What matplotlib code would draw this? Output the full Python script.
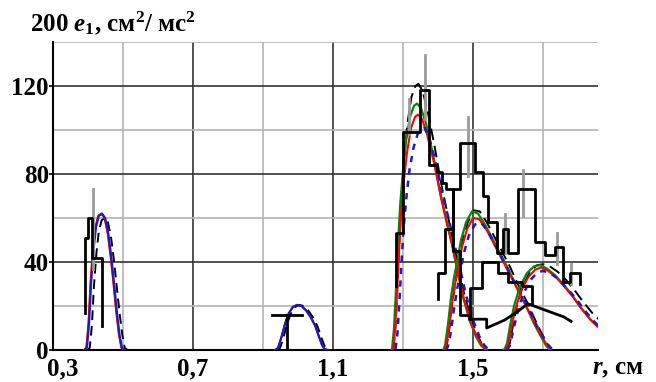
import matplotlib
matplotlib.use("Agg")
import matplotlib.pyplot as plt
import matplotlib.transforms as mtransforms

plt.rcParams['font.family'] = ['Liberation Serif', 'DejaVu Serif']
plt.rcParams['font.weight'] = 'bold'
plt.rcParams['mathtext.fontset'] = 'custom'
plt.rcParams['mathtext.rm'] = 'Liberation Serif:bold'
plt.rcParams['mathtext.it'] = 'Liberation Serif:italic:bold'
plt.rcParams['mathtext.bf'] = 'Liberation Serif:bold'

# ---------------- data ----------------
x_major = [0.3, 0.7, 1.1, 1.5]
x_major_labels = ["0,3", "0,7", "1,1", "1,5"]
x_minor = [0.5, 0.9, 1.3, 1.7]
y_major = [0, 40, 80, 120]
y_major_labels = ["0", "40", "80", "120"]
y_minor = [20, 60, 100, 140]

# peak 1 (~0.44)
p1_x = [0.390, 0.397, 0.403, 0.409, 0.416, 0.423, 0.431, 0.440, 0.449, 0.458, 0.466, 0.474, 0.482, 0.490, 0.497, 0.505]
p1_x_red = [0.388, 0.395, 0.401, 0.407, 0.414, 0.421, 0.429, 0.438, 0.447, 0.456, 0.464, 0.472, 0.480, 0.488, 0.495, 0.503]
p1_x_dash = [0.398, 0.405, 0.411, 0.417, 0.424, 0.431, 0.439, 0.448, 0.457, 0.466, 0.474, 0.482, 0.490, 0.498, 0.505, 0.513]
p1_y = [0, 1, 12, 31, 46, 56, 61, 62, 60, 53, 43, 31, 18, 7, 1, 0]
p1_y_dash = [0, 1, 11, 29, 44, 54, 59, 60, 58, 51, 41, 29, 17, 7, 1, 0]

# peak 2 (~1.0)
p2_x = [0.935, 0.943, 0.953, 0.963, 0.973, 0.985, 0.997, 1.010, 1.023, 1.036, 1.049, 1.060, 1.068, 1.075, 1.085]
p2_x_dash = [0.941, 0.949, 0.959, 0.969, 0.979, 0.991, 1.003, 1.016, 1.029, 1.042, 1.055, 1.066, 1.074, 1.081, 1.091]
p2_y = [0, 1, 6, 12, 16.5, 19.5, 20.5, 20, 18, 15, 11, 6, 2.5, 0.5, 0]

# peak 3 (~1.34)
p3_x = [1.2686, 1.2743, 1.2800, 1.2857, 1.2914, 1.3000, 1.3086, 1.3200, 1.3314, 1.3400, 1.3514,
        1.3657, 1.3857, 1.4057, 1.4229, 1.4371, 1.4543, 1.4714, 1.4914, 1.5086, 1.5229, 1.5371]
p3_x_red = [1.2716, 1.2773, 1.2830, 1.2887, 1.2944, 1.3030, 1.3116, 1.3230, 1.3344, 1.3430, 1.3544,
            1.3687, 1.3887, 1.4087, 1.4259, 1.4401, 1.4573, 1.4744, 1.4944, 1.5116, 1.5259, 1.5401]
p3_x_blue = [1.2786, 1.2843, 1.2900, 1.2957, 1.3014, 1.3100, 1.3186, 1.3300, 1.3414, 1.3500, 1.3614,
             1.3757, 1.3957, 1.4157, 1.4329, 1.4471, 1.4643, 1.4814, 1.5014, 1.5186, 1.5329, 1.5471]
p3_x_dash = [1.2726, 1.2783, 1.2840, 1.2897, 1.2954, 1.3040, 1.3126, 1.3240, 1.3354, 1.3440, 1.3554,
             1.3697, 1.3897, 1.4097, 1.4269, 1.4411, 1.4583, 1.4754, 1.4954, 1.5126, 1.5269, 1.5411]
p3_green = [0.5, 10, 28, 48, 65, 82, 95, 106, 111, 112, 110, 103, 89, 72, 60, 50, 37, 24, 13, 6, 2, 0]
p3_red = [0.5, 9, 26, 45, 62, 78, 90, 101, 106, 107, 105, 98, 85, 69, 57, 48, 35, 23, 12, 6, 2, 0]
p3_blue = [0.5, 8, 23, 40, 55, 70, 82, 92, 98, 100, 101, 96, 84, 69, 58, 48, 36, 24, 13, 6, 2, 0]
p3_dash = [0.5, 10, 29, 50, 69, 88, 103, 115, 120, 121, 118, 109, 93, 75, 62, 51, 38, 25, 14, 7, 2, 0]

# peak 4 (~1.50)
p4_x = [1.4143, 1.4200, 1.4286, 1.4371, 1.4457, 1.4543, 1.4657, 1.4800, 1.4971, 1.5143,
        1.5343, 1.5543, 1.5771, 1.6000, 1.6229, 1.6486, 1.6743, 1.6943, 1.7086, 1.7200]
p4_x_red = [1.4173, 1.4230, 1.4316, 1.4401, 1.4487, 1.4573, 1.4687, 1.4830, 1.5001, 1.5173,
            1.5373, 1.5573, 1.5801, 1.6030, 1.6259, 1.6516, 1.6773, 1.6973, 1.7116, 1.7230]
p4_x_blue = [1.4223, 1.4280, 1.4366, 1.4451, 1.4537, 1.4623, 1.4737, 1.4880, 1.5051, 1.5223,
             1.5423, 1.5623, 1.5851, 1.6080, 1.6309, 1.6566, 1.6823, 1.7023, 1.7166, 1.7280]
p4_x_dash = [1.4193, 1.4250, 1.4336, 1.4421, 1.4507, 1.4593, 1.4707, 1.4850, 1.5021, 1.5193,
             1.5393, 1.5593, 1.5821, 1.6050, 1.6279, 1.6536, 1.6793, 1.6993, 1.7136, 1.7250]
p4_green = [0, 2, 12, 24, 33, 40, 50, 58, 63, 62, 57, 51, 44, 37, 29, 21, 12, 6, 2, 0]
p4_red = [0, 2, 10, 21, 30, 37, 47, 55, 60, 59.5, 55, 49, 42, 35, 28, 20, 11.5, 6, 2, 0]
p4_blue = [0, 1.5, 8, 18, 27, 34, 44, 52, 57, 58, 54, 48, 41, 34, 27, 19.5, 11, 5.5, 2, 0]
p4_dash = [0, 2, 11, 23, 32, 40, 50, 58, 63.5, 63, 58, 52, 45, 38, 30, 22, 13, 6.5, 2, 0]

# peak 5 (~1.69)
p5_x = [1.5886, 1.5971, 1.6057, 1.6171, 1.6343, 1.6543, 1.6743, 1.6914, 1.7114, 1.7343,
        1.7571, 1.7829, 1.8086, 1.8343, 1.8571, 1.8800]
p5_x_red = [1.5916, 1.6001, 1.6087, 1.6201, 1.6373, 1.6573, 1.6773, 1.6944, 1.7144, 1.7373,
            1.7601, 1.7859, 1.8116, 1.8373, 1.8601, 1.8830]
p5_x_blue = [1.5966, 1.6051, 1.6137, 1.6251, 1.6423, 1.6623, 1.6823, 1.6994, 1.7194, 1.7423,
             1.7651, 1.7909, 1.8166, 1.8423, 1.8651, 1.8880]
p5_x_dash = [1.5966, 1.6051, 1.6137, 1.6251, 1.6423, 1.6623, 1.6823, 1.6994, 1.7194, 1.7423,
             1.7651, 1.7909, 1.8166, 1.8423, 1.8651, 1.8880]
p5_green = [0, 3, 11, 20, 29, 35, 38, 38.6, 37, 34, 30, 25, 19, 14, 10.5, 8]
p5_red = [0, 2.5, 9.5, 18, 27, 33, 36.5, 37.5, 36, 33, 29, 24, 18.5, 13.5, 10, 7.5]
p5_blue = [0, 2, 8, 16, 25, 31.5, 35, 36, 35, 32.5, 28.5, 24, 18.5, 13.5, 10, 7.5]
p5_dash = [0, 3, 11, 20, 29, 35.5, 38.5, 39, 38, 35.5, 32, 27, 21.5, 16.5, 13, 10]

# experimental histograms (step lines, steps-post)
h1_x = [0.391, 0.391, 0.400, 0.411, 0.439, 0.439]
h1_y = [17, 51, 60, 42, 42, 11]
h2_x = [0.926, 1.011]
h2_y = [16, 16]
h2_stem_x = [0.969, 0.969]
h2_stem_y = [0, 16]
hA_x = [1.280, 1.280, 1.300, 1.349, 1.374, 1.397, 1.411, 1.423, 1.443, 1.463, 1.490]
hA_y = [29, 53, 99, 118, 84, 81, 76, 73, 45, 16, 14]
hC_x = [1.400, 1.400, 1.420, 1.443, 1.463, 1.506, 1.529, 1.543, 1.569, 1.586, 1.600,
        1.629, 1.677, 1.706, 1.734, 1.757, 1.777, 1.806]
hC_y = [23, 35, 55, 73, 94, 81, 70, 58, 44, 55, 44, 73, 49, 43, 47, 31, 35, 30]
hD_x = [1.490, 1.490, 1.526, 1.572, 1.600, 1.640, 1.669, 1.669]
hD_y = [16, 28, 40, 35, 31, 29, 29, 21]
lineE_x = [1.490, 1.539, 1.539, 1.590, 1.623, 1.657, 1.674, 1.760, 1.780]
lineE_y = [14, 14, 10, 13.6, 17, 21, 20, 15, 13]

# error bars (x, low, high)
err_x = [0.414, 1.316, 1.363, 1.486, 1.591, 1.643, 1.740, 1.780]
err_lo = [37, 98, 105, 79, 44, 61, 39, 30]
err_hi = [73, 114, 134, 106, 62, 82, 53, 39]

# ---------------- figure ----------------
fig = plt.figure(figsize=(6.56, 3.82), dpi=100)
ax = fig.add_axes([53 / 656, 32 / 382, 545 / 656, 308 / 382])
ax.set_xlim(0.3, 1.857)
ax.set_ylim(0, 140)

ax.set_xticks(x_major)
ax.set_xticklabels(x_major_labels)
ax.set_xticks(x_minor, minor=True)
ax.set_yticks(y_major)
ax.set_yticklabels(y_major_labels)
ax.set_yticks(y_minor, minor=True)
ax.set_axisbelow(True)
ax.grid(which='major', color='#333333', lw=1.2)
ax.grid(which='minor', color='#b4b4b4', lw=1.2)
ax.tick_params(axis='x', which='both', length=0, pad=5.5, labelsize=18)
ax.tick_params(axis='y', which='major', length=3, width=1.2, pad=0, labelsize=18)
ax.tick_params(axis='y', which='minor', length=0)
for lab in ax.get_xticklabels() + ax.get_yticklabels():
    lab.set_fontweight('bold')
# first x label sits a little to the right of its tick in the reference
first = ax.get_xticklabels()[0]
first.set_transform(first.get_transform() +
                    mtransforms.ScaledTranslation(10 / 100, 0, fig.dpi_scale_trans))
for s in ['top', 'right']:
    ax.spines[s].set_visible(False)
for s in ['left', 'bottom']:
    ax.spines[s].set_linewidth(1.5)
    ax.spines[s].set_color('black')

green = '#008a00'
red = '#ff0000'
blue = '#1a1acc'
brown = '#b06a20'

# peak 1 & 2: blue solid, red, black dashed, brown thin
for xs, xr, xd, ys, yd in [(p1_x, p1_x_red, p1_x_dash, p1_y, p1_y_dash),
                           (p2_x, p2_x, p2_x_dash, p2_y, p2_y)]:
    ax.plot(xr, ys, color=brown, lw=1.0, zorder=3)
    ax.plot(xr, ys, color=red, lw=1.3, zorder=3)
    ax.plot(xd, yd, color='black', lw=1.4, dashes=(5, 3), zorder=4)
    ax.plot(xs, ys, color=blue, lw=1.6, zorder=5)

# peaks 3-5: green, red, blue dashed, black dashed
for xg, xr, xb, xd, yg, yr, yb, yd in [
        (p3_x, p3_x_red, p3_x_blue, p3_x_dash, p3_green, p3_red, p3_blue, p3_dash),
        (p4_x, p4_x_red, p4_x_blue, p4_x_dash, p4_green, p4_red, p4_blue, p4_dash),
        (p5_x, p5_x_red, p5_x_blue, p5_x_dash, p5_green, p5_red, p5_blue, p5_dash)]:
    ax.plot(xd, yd, color='black', lw=1.4, dashes=(6, 3), zorder=3)
    ax.plot(xg, yg, color=green, lw=1.6, zorder=4)
    ax.plot(xr, yr, color=red, lw=1.5, zorder=4)
    ax.plot(xb, yb, color=blue, lw=1.8, dashes=(2.5, 2.5), zorder=4)

# error bars
for x, lo, hi in zip(err_x, err_lo, err_hi):
    ax.plot([x, x], [lo, hi], color='#9a9a9a', lw=2.0, zorder=6)

# histograms
hk = dict(color='black', lw=2.0, zorder=7, drawstyle='steps-post')
ax.plot(h1_x, h1_y, **hk)
ax.plot(hA_x, hA_y, **hk)
ax.plot(hC_x, hC_y, **hk)
ax.plot(hD_x, hD_y, **hk)
ax.plot(h2_x, h2_y, color='black', lw=2.0, zorder=7)
ax.plot(h2_stem_x, h2_stem_y, color='black', lw=2.0, zorder=7)
ax.plot(lineE_x, lineE_y, color='black', lw=2.0, zorder=7)

# labels
fig.text(30 / 656, 1 - 31 / 382, "200 $e_1$, см$^2$/ мс$^2$", fontsize=18,
         fontweight='bold', ha='left', va='baseline')
fig.text(592 / 656, 1 - 369 / 382, "$r$, см", fontsize=18, fontweight='bold',
         ha='left', va='center')

fig.savefig("out.png", dpi=100)
